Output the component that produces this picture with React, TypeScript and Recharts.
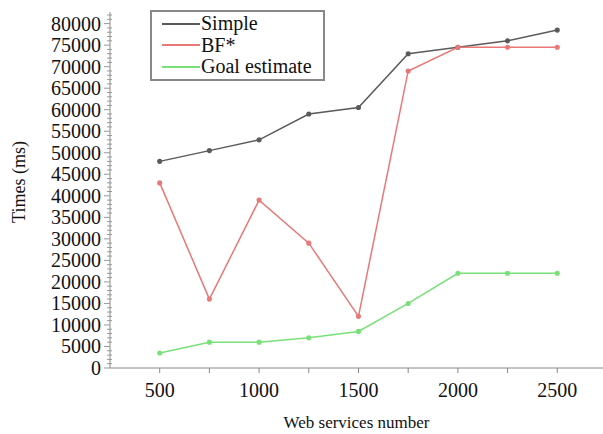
import { LineChart, Line, XAxis, YAxis, Legend } from 'recharts';

const services = [500, 750, 1000, 1250, 1500, 1750, 2000, 2250, 2500];
const simple = [48000, 50500, 53000, 59000, 60500, 73000, 74500, 76000, 78500];
const bf = [43000, 16000, 39000, 29000, 12000, 69000, 74500, 74500, 74500];
const goal = [3500, 6000, 6000, 7000, 8500, 15000, 22000, 22000, 22000];

// minor ticks every 1000, labelled every 5000
const yTicks = Array.from({ length: 83 }, (_, i) => i * 1000);

const SERIES = [
    { key: 'simple', name: 'Simple', color: '#5a5a5a' },
    { key: 'bf', name: 'BF*', color: '#e97878' },
    { key: 'goal', name: 'Goal estimate', color: '#78e078' },
];

const FONT = '"Liberation Serif", "Times New Roman", serif';

const data = services.map((s, i) => ({
    services: s,
    simple: simple[i],
    bf: bf[i],
    goal: goal[i],
}));

function YTick(props: any) {
    const { x, y, payload } = props;
    const v = payload.value as number;
    const major = v % 5000 === 0;
    return (
        <g>
            <line x1={major ? x - 6 : x - 3} x2={major ? x : x + 2} y1={y} y2={y} stroke="#999" strokeWidth={1} />
            {major && (
                <text x={x - 9} y={y} dy={7} textAnchor="end" fill="#111" fontSize={20} fontFamily={FONT}>
                    {v}
                </text>
            )}
        </g>
    );
}

function YLabel(props: any) {
    const { viewBox } = props;
    const cx = viewBox.x + 19;
    const cy = viewBox.y + viewBox.height / 2 - 8;
    return (
        <text x={cx} y={cy} transform={`rotate(-90 ${cx} ${cy})`} textAnchor="middle" dominantBaseline="central" fill="#111" fontSize={18} fontFamily={FONT}>
            Times (ms)
        </text>
    );
}

function LegendBox() {
    return (
        <div
            style={{
                border: '2px solid #888',
                background: '#fff',
                width: 171,
                padding: '1px 0',
                fontFamily: FONT,
                fontSize: 20,
                lineHeight: '21.5px',
                color: '#111',
            }}
        >
            {SERIES.map((s) => (
                <div key={s.key} style={{ display: 'flex', alignItems: 'center' }}>
                    <div style={{ width: 38, height: 2, background: s.color, marginLeft: 10, marginRight: 1 }} />
                    <span>{s.name}</span>
                </div>
            ))}
        </div>
    );
}

export default function App() {
    return (
        <div style={{ position: 'absolute', left: 0, top: 0, background: '#fff' }}>
            <LineChart
                width={603}
                height={434}
                data={data}
                margin={{ top: 12, right: 0, bottom: 36, left: 0 }}
                style={{ fontFamily: FONT }}
            >
                <XAxis
                    dataKey="services"
                    type="number"
                    domain={[250, 2730]}
                    ticks={services}
                    interval={0}
                    tickFormatter={(v: number) => (v % 500 === 0 ? String(v) : '')}
                    stroke="#888"
                    tickSize={5}
                    tick={{ fill: '#111', fontSize: 20, fontFamily: FONT }}
                    tickMargin={10}
                    label={{ value: 'Web services number', position: 'insideBottom', offset: -30, fill: '#111', fontSize: 17, fontFamily: FONT }}
                />
                <YAxis
                    domain={[0, 82700]}
                    ticks={yTicks}
                    interval={0}
                    stroke="#888"
                    tickLine={false}
                    tickSize={0}
                    tickMargin={0}
                    width={110}
                    tick={<YTick />}
                    label={<YLabel />}
                />
                <Legend
                    layout="horizontal"
                    verticalAlign="middle"
                    align="center"
                    content={<LegendBox />}
                    wrapperStyle={{ left: 150, top: 10, width: 175 }}
                />
                {SERIES.map((s) => (
                    <Line
                        key={s.key}
                        dataKey={s.key}
                        name={s.name}
                        stroke={s.color}
                        strokeWidth={1.5}
                        dot={{ r: 1.8, fill: s.color, stroke: s.color }}
                        isAnimationActive={false}
                    />
                ))}
            </LineChart>
        </div>
    );
}
